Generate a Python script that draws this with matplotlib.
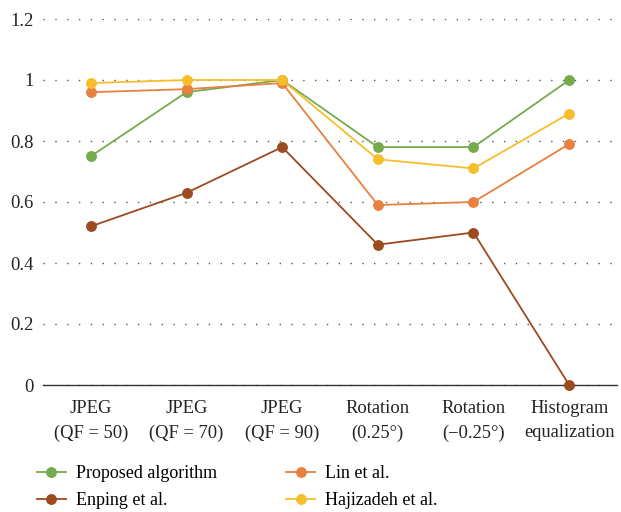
import numpy as np
import matplotlib.pyplot as plt

categories = ["JPEG\n(QF = 50)", "JPEG\n(QF = 70)", "JPEG\n(QF = 90)",
              "Rotation\n(0.25°)", "Rotation\n(\u22120.25°)", "Histogram\nequalization"]
proposed = [0.75, 0.96, 1.0, 0.78, 0.78, 1.0]
enping = [0.52, 0.63, 0.78, 0.46, 0.50, 0.0]
lin = [0.96, 0.97, 0.99, 0.59, 0.60, 0.79]
hajizadeh = [0.99, 1.0, 1.0, 0.74, 0.71, 0.89]

plt.rcParams['font.family'] = ['Liberation Serif', 'DejaVu Serif']

fig = plt.figure(figsize=(6.21, 5.12), dpi=100)
ax = fig.add_axes([43/621, 1-385/512, 574/621, 366/512])

x = np.arange(len(categories))
series = [("Proposed algorithm", proposed, "#75aa4d"),
          ("Enping et al.", enping, "#9c4a1f"),
          ("Lin et al.", lin, "#e8803f"),
          ("Hajizadeh et al.", hajizadeh, "#f6be2a")]
for name, vals, c in series:
    ax.plot(x, vals, '-o', color=c, lw=1.3, ms=6.8, label=name, clip_on=False, zorder=3)

ax.set_xlim(-0.5, len(categories) - 0.5)
ax.set_ylim(0, 1.2)
ax.set_yticks([0, 0.2, 0.4, 0.6, 0.8, 1.0, 1.2])
ax.set_yticklabels(["0", "0.2", "0.4", "0.6", "0.8", "1", "1.2"])
ax.set_xticks(x)
ax.set_xticklabels(categories, linespacing=1.55)
ax.tick_params(axis='both', length=0, labelsize=13.3, colors='#222222')
ax.tick_params(axis='y', pad=7)
ax.tick_params(axis='x', pad=11)
ax.grid(axis='y', linestyle=(0, (1, 7.5)), color='#555555', lw=1.0)
for s in ['top', 'right', 'left']:
    ax.spines[s].set_visible(False)
ax.spines['bottom'].set_color('#333333')
ax.spines['bottom'].set_linewidth(1.0)
ax.set_axisbelow(True)

ax.legend(ncol=2, loc='upper left', bbox_to_anchor=(37/621, 1-465/512),
          bbox_transform=fig.transFigure, frameon=False, borderaxespad=0, borderpad=0,
          fontsize=13, handlelength=1.6, columnspacing=3.85, labelspacing=0.55,
          handletextpad=0.55)

fig.savefig("out.png", dpi=100)
